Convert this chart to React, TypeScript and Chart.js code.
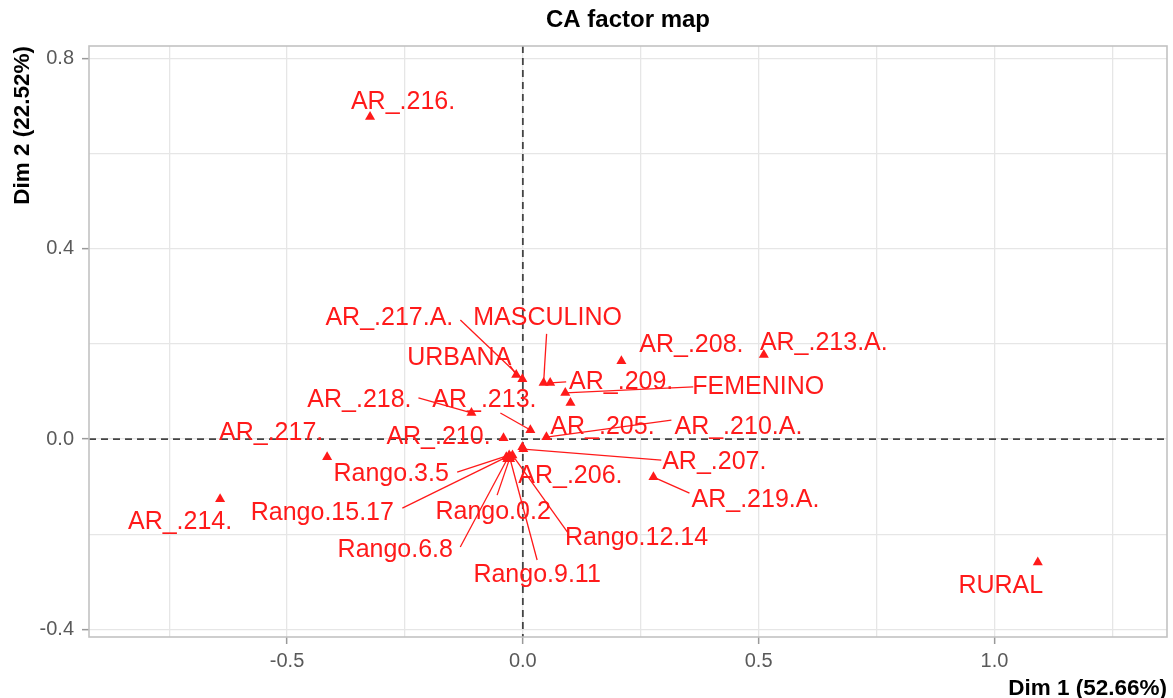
import { useEffect, useRef } from 'react';
import { Chart, registerables } from 'chart.js';

Chart.register(...registerables);

// ---- data (CA coordinates) ----
const categories = [
  'AR_.216.', 'AR_.217.A.', 'MASCULINO', 'URBANA', 'AR_.208.', 'AR_.213.A.', 'AR_.209.', 'FEMENINO',
  'AR_.218.', 'AR_.213.', 'AR_.205.', 'AR_.210.A.', 'AR_.217.', 'AR_.210.', 'Rango.3.5', 'AR_.206.',
  'AR_.207.', 'AR_.214.', 'AR_.219.A.', 'Rango.15.17', 'Rango.0.2', 'Rango.12.14', 'Rango.6.8', 'Rango.9.11',
  'RURAL',
];
const dim1 = [
  -0.324, -0.001, 0.044, -0.014, 0.209, 0.511, 0.058, 0.090,
  -0.109, 0.016, 0.101, 0.050, -0.415, -0.041, -0.029, -0.001,
  0.001, -0.642, 0.277, -0.035, -0.027, -0.022, -0.033, -0.027,
  1.092,
];
const dim2 = [
  0.677, 0.126, 0.118, 0.135, 0.164, 0.177, 0.118, 0.097,
  0.055, 0.019, 0.076, 0.004, -0.038, 0.002, -0.034, -0.017,
  -0.021, -0.126, -0.080, -0.038, -0.038, -0.034, -0.042, -0.042,
  -0.259,
];
const xGridTicks = [-0.75, -0.5, -0.25, 0, 0.25, 0.5, 0.75, 1, 1.25];
const xLabelTicks = [-0.5, 0, 0.5, 1];
const yGridTicks = [-0.4, -0.2, 0, 0.2, 0.4, 0.6, 0.8];
const yLabelTicks = [-0.4, 0, 0.4, 0.8];
const xRange = [-0.92, 1.366];
const yRange = [-0.416, 0.826];
const chartTitle = 'CA factor map';
const xTitle = 'Dim 1 (52.66%)';
const yTitle = 'Dim 2 (22.52%)';

// ---- label layout (pixel offsets from each point; repel-style placement) ----
// [labelDx, labelDy, segmentEndDx, segmentEndDy] ; segment null = no leader line
const labelLayout: [number, number, number | null, number | null][] = [
  [33, -15, null, null],
  [-133, -61, -62, -59],
  [4, -65, 3, -49],
  [-57, -17, -6, -9],
  [70, -16, null, null],
  [60, -12, null, null],
  [71, -1, 16, -1],
  [193, -6, 128, -6],
  [-112, -13, -53, -15],
  [-46, -30, -30, -17],
  [32, 24, null, null],
  [192, -10, 125, -17],
  [-56, -24, null, null],
  [-65, -1, null, null],
  [-118, 19, -52, 17],
  [48, 29, null, null],
  [191, 13, 138, 11],
  [-40, 23, null, null],
  [102, 23, 36, 16],
  [-184, 56, -104, 51],
  [-17, 55, -13, 38],
  [124, 83, 55, 77],
  [-112, 91, -47, 88],
  [27, 116, 27, 101],
  [-37, 24, null, null],
];

const FONT = '"Liberation Sans", Arial, Helvetica, sans-serif';
const RED = '#ff1a1a';

const overlayPlugin = {
  id: 'caOverlay',
  beforeDatasetsDraw(chart: any) {
    const { ctx, chartArea: a, scales } = chart;
    const x0 = scales.x.getPixelForValue(0);
    const y0 = scales.y.getPixelForValue(0);
    ctx.save();
    ctx.beginPath();
    ctx.rect(a.left, a.top, a.right - a.left, a.bottom - a.top);
    ctx.clip();
    ctx.strokeStyle = '#444444';
    ctx.lineWidth = 1.8;
    ctx.setLineDash([7, 5]);
    ctx.beginPath();
    ctx.moveTo(x0, a.top);
    ctx.lineTo(x0, a.bottom);
    ctx.moveTo(a.left, y0);
    ctx.lineTo(a.right, y0);
    ctx.stroke();
    ctx.restore();
  },
  afterDatasetsDraw(chart: any) {
    const { ctx, scales } = chart;
    ctx.save();
    ctx.strokeStyle = RED;
    ctx.lineWidth = 1.3;
    categories.forEach((_, i) => {
      const px = scales.x.getPixelForValue(dim1[i]);
      const py = scales.y.getPixelForValue(dim2[i]);
      const [, , sx, sy] = labelLayout[i];
      if (sx !== null && sy !== null) {
        ctx.beginPath();
        ctx.moveTo(px, py);
        ctx.lineTo(px + sx, py + sy);
        ctx.stroke();
      }
    });
    ctx.fillStyle = RED;
    ctx.font = `25px ${FONT}`;
    ctx.textAlign = 'center';
    ctx.textBaseline = 'middle';
    categories.forEach((name, i) => {
      const px = scales.x.getPixelForValue(dim1[i]);
      const py = scales.y.getPixelForValue(dim2[i]);
      const [dx, dy] = labelLayout[i];
      ctx.fillText(name, px + dx, py + dy);
    });
    ctx.restore();
  },
  afterDraw(chart: any) {
    const { ctx, chartArea: a } = chart;
    ctx.save();
    ctx.strokeStyle = '#c2c2c2';
    ctx.lineWidth = 1.6;
    ctx.strokeRect(a.left, a.top, a.right - a.left, a.bottom - a.top);
    ctx.restore();
  },
};

export default function App() {
  const ref = useRef<HTMLCanvasElement | null>(null);

  useEffect(() => {
    if (!ref.current) return;
    const chart = new Chart(ref.current, {
      type: 'scatter',
      data: {
        datasets: [
          {
            label: 'points',
            data: dim1.map((x, i) => ({ x, y: dim2[i] })),
            pointStyle: 'triangle',
            pointRadius: 5.8,
            pointHoverRadius: 5.8,
            backgroundColor: RED,
            borderColor: RED,
            borderWidth: 0,
          },
        ],
      },
      options: {
        animation: false,
        responsive: false,
        maintainAspectRatio: false,
        events: [],
        layout: { padding: { left: 0, right: 6, top: 0, bottom: 0 } },
        plugins: {
          legend: { display: false },
          tooltip: { enabled: false },
          title: {
            display: true,
            text: chartTitle,
            fullSize: false,
            color: '#000000',
            font: { family: FONT, size: 24, weight: 'bold', lineHeight: '28px' },
            padding: { top: 6, bottom: 12 },
          },
        },
        scales: {
          x: {
            type: 'linear',
            min: xRange[0],
            max: xRange[1],
            afterBuildTicks: (scale: any) => {
              scale.ticks = xGridTicks.map((v) => ({ value: v }));
            },
            afterFit: (scale: any) => {
              scale.height = 61;
            },
            ticks: {
              autoSkip: false,
              maxRotation: 0,
              padding: 5,
              color: '#595959',
              font: { family: FONT, size: 20 },
              callback: (v: any) => (xLabelTicks.includes(v) ? Number(v).toFixed(1) : ''),
            },
            grid: {
              color: '#e6e6e6',
              lineWidth: 1.3,
              tickLength: 7,
              tickWidth: 1.5,
              tickColor: (c: any) => (c.tick && xLabelTicks.includes(c.tick.value) ? '#999999' : 'rgba(0,0,0,0)'),
            },
            border: { display: false },
            title: {
              display: true,
              text: xTitle,
              align: 'end',
              color: '#000000',
              font: { family: FONT, size: 22.5, weight: 'bold', lineHeight: '18px' },
              padding: 0,
            },
          },
          y: {
            type: 'linear',
            min: yRange[0],
            max: yRange[1],
            afterBuildTicks: (scale: any) => {
              scale.ticks = yGridTicks.map((v) => ({ value: v }));
            },
            afterFit: (scale: any) => {
              scale.width = 89;
            },
            ticks: {
              autoSkip: false,
              padding: 8,
              color: '#595959',
              font: { family: FONT, size: 20 },
              callback: (v: any) => (yLabelTicks.includes(v) ? Number(v).toFixed(1) : ''),
            },
            grid: {
              color: '#e6e6e6',
              lineWidth: 1.3,
              tickLength: 7,
              tickWidth: 1.5,
              tickColor: (c: any) => (c.tick && yLabelTicks.includes(c.tick.value) ? '#999999' : 'rgba(0,0,0,0)'),
            },
            border: { display: false },
            title: {
              display: true,
              text: yTitle,
              align: 'end',
              color: '#000000',
              font: { family: FONT, size: 22.5, weight: 'bold', lineHeight: '26px' },
              padding: { top: 10, bottom: 0 },
            },
          },
        },
      },
      plugins: [overlayPlugin],
    } as any);
    return () => chart.destroy();
  }, []);

  return (
    <div style={{ position: 'absolute', left: 0, top: 0, width: 1173, height: 698, background: '#ffffff' }}>
      <canvas ref={ref} width={1173} height={698} style={{ display: 'block' }} />
    </div>
  );
}
